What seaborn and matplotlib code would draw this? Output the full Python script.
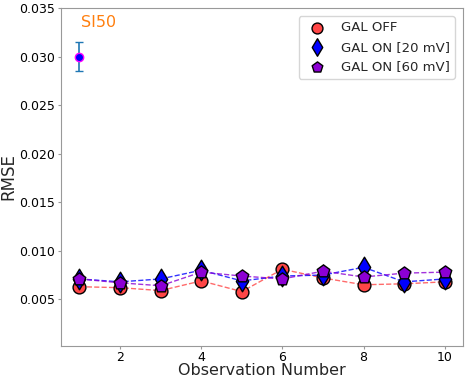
import numpy as np
import pandas as pd
import matplotlib
matplotlib.use("Agg")
import matplotlib.pyplot as plt
import seaborn as sns

# data
obs = [1, 2, 3, 4, 5, 6, 7, 8, 9, 10]
gal_off = [0.0063, 0.0062, 0.0059, 0.0069, 0.0058, 0.0081, 0.0072, 0.0065, 0.0066, 0.0068]
gal_on_20 = [0.0071, 0.0068, 0.0071, 0.0080, 0.0069, 0.0074, 0.0075, 0.0083, 0.0068, 0.0071]
gal_on_60 = [0.0071, 0.0067, 0.0064, 0.0078, 0.0074, 0.0071, 0.0079, 0.0073, 0.0077, 0.0078]

si50_x = [1]
si50_y = [0.0300]
si50_err = [0.0015]

labels = ["GAL OFF", "GAL ON [20 mV]", "GAL ON [60 mV]"]
series = [gal_off, gal_on_20, gal_on_60]
colors = ["#ff4646", "#0000ff", "#8c00d4"]
markers = ["o", "d", "p"]
sizes = [85, 110, 90]

sns.set_style("ticks")
plt.rcParams["axes.edgecolor"] = "#999999"
plt.rcParams["xtick.color"] = "#999999"
plt.rcParams["ytick.color"] = "#999999"
plt.rcParams["xtick.labelcolor"] = "black"
plt.rcParams["ytick.labelcolor"] = "black"

fig, ax = plt.subplots(figsize=(4.71, 3.81), dpi=100)
fig.subplots_adjust(left=0.13, right=0.983, top=0.979, bottom=0.092)

for i, (lab, vals) in enumerate(zip(labels, series)):
    df = pd.DataFrame({"obs": obs, "rmse": vals})
    sns.lineplot(data=df, x="obs", y="rmse", color=colors[i], linestyle="--",
                 linewidth=1, alpha=0.8, ax=ax, zorder=2 + i)
for i, (lab, vals) in enumerate(zip(labels, series)):
    df = pd.DataFrame({"obs": obs, "rmse": vals})
    sns.scatterplot(data=df, x="obs", y="rmse", color=colors[i], marker=markers[i],
                    s=sizes[i], edgecolor="black", linewidth=1, label=lab,
                    ax=ax, zorder=6 + i)

ax.errorbar(si50_x, si50_y, yerr=si50_err, fmt="o", color="C0", capsize=3,
            markerfacecolor="blue", markeredgecolor="magenta", markersize=6,
            elinewidth=1.2, zorder=10)
ax.text(0.048, 0.958, "SI50", transform=ax.transAxes, color="C1", fontsize=11.5,
        ha="left", va="center")

ax.set_ylim(0.0002, 0.035)
ax.set_yticks([0.005, 0.010, 0.015, 0.020, 0.025, 0.030, 0.035])
ax.set_xticks([2, 4, 6, 8, 10])
ax.tick_params(labelsize=9, length=2, pad=2.5)
ax.tick_params(axis="x", pad=1.5)
ax.set_xlabel("Observation Number", fontsize=11.5, labelpad=-0.5)
ax.set_ylabel("RMSE", fontsize=12, labelpad=1)
ax.legend(loc="upper right", fontsize=9.5, frameon=True, markerscale=0.85,
          borderaxespad=0.6)

fig.savefig("out.png", dpi=100)
